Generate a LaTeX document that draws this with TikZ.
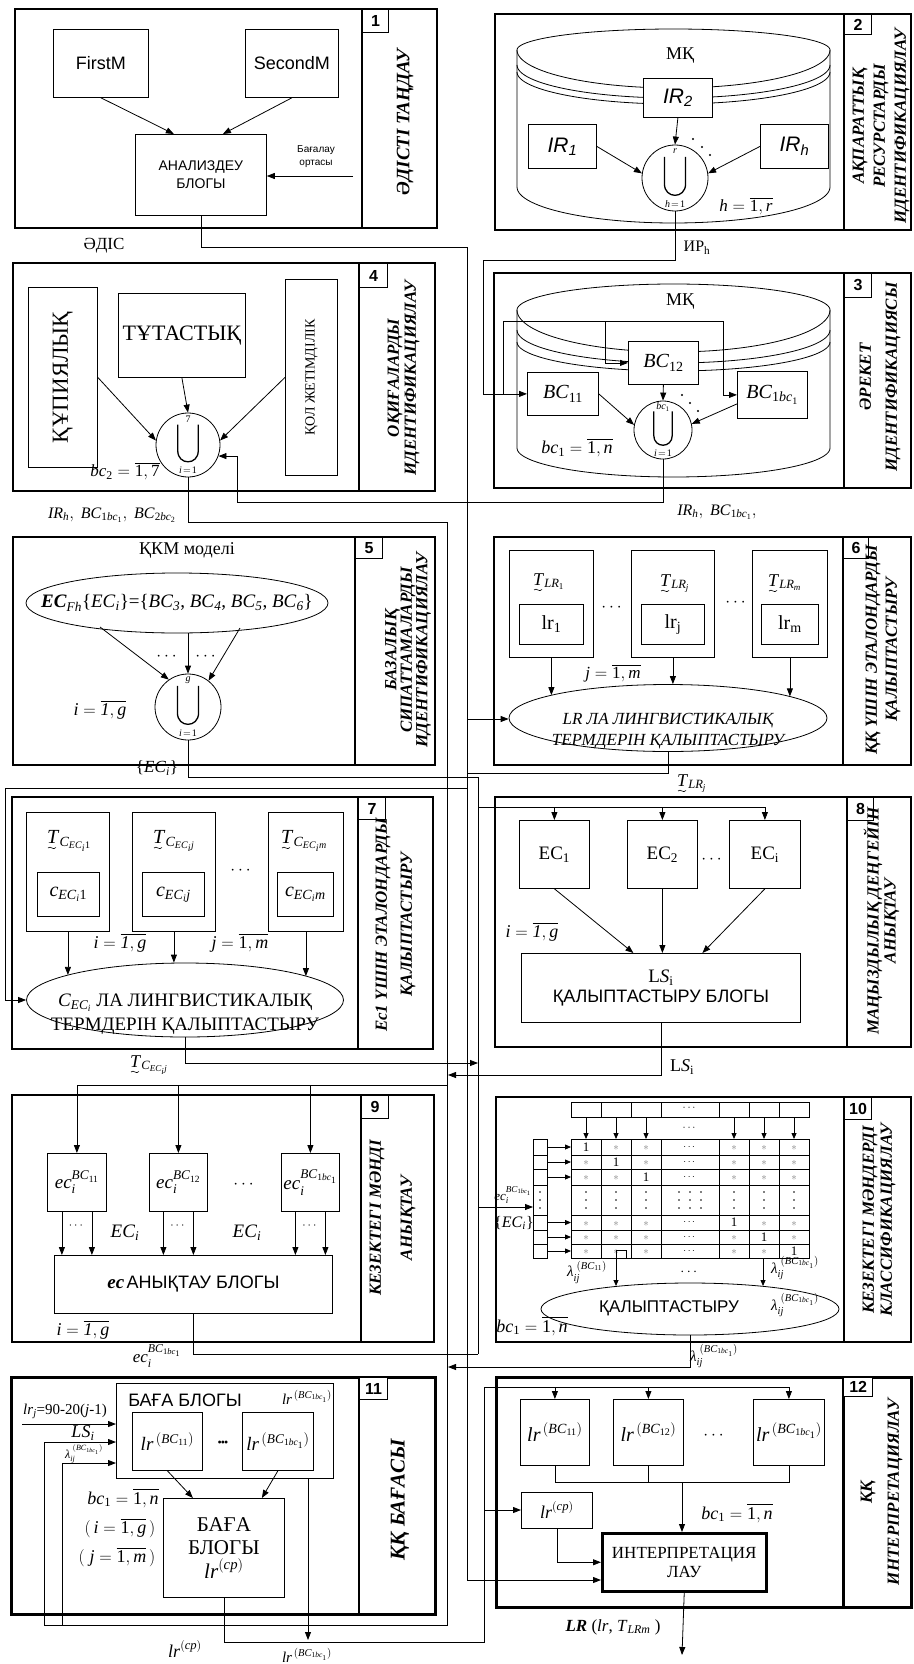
\documentclass[tikz,border=0pt]{standalone}
\usepackage{amsmath}
\usepackage{fontspec}
\setmainfont{Liberation Serif}
\setsansfont{Liberation Sans}
\usetikzlibrary{arrows.meta,calc,shapes.geometric}
\newcommand{\ti}[1]{\text{\textit{#1}}}
\newcommand{\tu}[1]{\text{\upshape #1}}
\newcommand{\fsz}[1]{\fontsize{#1}{#1}\selectfont}
\newcommand{\ovl}[1]{\overline{#1}}
\tikzset{
 ln/.style={line width=0.8pt},
 arr/.style={ln,-{Triangle[length=8pt,width=6pt]}},
 arrs/.style={ln,-{Triangle[length=6pt,width=5pt]}},
 frame/.style={line width=1.1pt},
 bx/.style={draw,ln,fill=white,inner sep=0,align=center},
 ttl/.style={rotate=90,align=center,inner sep=0,font=\fontsize{17}{#1}\selectfont\bfseries\itshape},
 ttl/.default=20,
 num/.style={draw,line width=1pt,font=\sffamily\bfseries\fsz{16}},
 lbl/.style={inner sep=0,align=center},
 ell/.style={draw,ln,ellipse,inner sep=0,fill=white},
}
\newcommand{\rbox}[7][]{\node[bx,anchor=north west,minimum width={(#5-#3)*1pt},minimum height={(#6-#4)*1pt},#1] (#2) at (#3,#4) {#7};}
\newcommand{\ucirc}[6]{%
 \node[draw,ln,circle,fill=white,minimum size={2*#4*1pt},inner sep=0] (#1) at (#2,#3) {};
 \draw[line width=1.3pt] ($(#1)+({-0.32*#4},{-0.64*#4})$) -- ($(#1)+({-0.32*#4},{0.18*#4})$) .. controls ($(#1)+({-0.32*#4},{0.64*#4})$) and ($(#1)+({0.32*#4},{0.64*#4})$) .. ($(#1)+({0.32*#4},{0.18*#4})$) -- ($(#1)+({0.32*#4},{-0.64*#4})$);
 \node[lbl,font=\fsz{10}] (#1sup) at ($(#1)+(0,{-0.8*#4})$) {$#5$};
 \node[lbl,font=\fsz{10}] (#1sub) at ($(#1)+(0,{0.8*#4})$) {$#6$};
}
% T with a tilde below: name, x, y (baseline of T), subscript, font size
\newcommand{\tlab}[5]{%
 \node[lbl,anchor=base west,font=\fsz{#5}] (#1) at (#2,#3) {$\ti{T}_{#4}$};
 \draw[line width=0.6pt] ($(#1.base west)+(1,5)$) .. controls ($(#1.base west)+(3.5,2)$) and ($(#1.base west)+(6,8)$) .. ($(#1.base west)+(9,4.5)$);
}
\begin{document}
\begin{tikzpicture}[x=1pt,y=-1pt]
\useasboundingbox (0,0) rectangle (913,1664);
\fill[white] (0,0) rectangle (913,1664);
%% ---------- BLOCK 1
\draw[frame] (15,9) rectangle (437,228) (362,9) -- (362,228);
\rbox[num]{n1}{362}{9}{388}{32}{1}
\node[ttl,font=\fontsize{19}{22}\selectfont\bfseries\itshape] (t1) at (405,122) {ӘДІСТІ ТАҢДАУ};
\rbox[font=\sffamily\fsz{18}]{fm}{53}{29}{148}{97}{FirstM}
\rbox[font=\sffamily\fsz{18}]{sm}{245}{29}{338}{97}{SecondM}
\rbox[font=\sffamily\fontsize{14}{18}\selectfont]{ab}{135}{134}{266}{215}{АНАЛИЗДЕУ\\БЛОГЫ}
\draw[arr] (fm.south) -- ($(ab.north)+(-27,0)$);
\draw[arr] (sm.south) -- ($(ab.north)+(22,0)$);
\coordinate (b1in) at (353,176);
\draw[arr] (b1in) -- (b1in -| ab.east);
\node[lbl,font=\sffamily\fontsize{10}{13}\selectfont] (bo) at (316,157) {Бағалау\\ортасы};
\node[lbl,font=\fsz{17}] (adis) at (104,246) {ӘДІС};
%% ---------- BLOCK 2
\draw[frame] (495,14) rectangle (911,230) (844,14) -- (844,230);
\rbox[num]{n2}{844}{14}{871}{34}{2}
\node[ttl=21] (t2) at (881,126) {АҚПАРАТТЫҚ\\РЕСУРСТАРДЫ\\ИДЕНТИФИКАЦИЯЛАУ};
\draw[ln,fill=white] plot[domain=180:0,samples=60] ({673.5+156.5*cos(\x)},{50-21*sin(\x)}) -- plot[domain=0:180,samples=60] ({673.5+156.5*cos(\x)},{187+36*sin(\x)}) -- cycle;
\foreach \sa/\ra in {50/38,65/33,72/32} \draw[ln] plot[domain=0:180,samples=60] ({673.5+156.5*cos(\x)},{\sa+\ra*sin(\x)});
\node[lbl,font=\fsz{18}] (mk2) at (680,56) {МҚ};
\rbox[font=\sffamily\itshape\fsz{21}]{ir2}{643}{78}{712}{117}{IR\textsubscript{2}}
\rbox[font=\sffamily\itshape\fsz{21}]{ir1}{528}{124}{596}{168}{IR\textsubscript{1}}
\rbox[font=\sffamily\itshape\fsz{21}]{irh}{760}{124}{828}{168}{IR\textsubscript{h}}
\ucirc{u2}{675}{178}{33}{\ti{r}}{\ti{h}\!=\!\tu{1}}
\draw[arr] (ir2.south) -- (u2.north);
\draw[arr] (ir1.east) -- (u2.172);
\draw[arr] (irh.west) -- (u2.8);
\fill (693,139) circle[radius=1.1pt] (702,147) circle[radius=1.1pt] (710,155) circle[radius=1.1pt];
\node[lbl,font=\fsz{17}] (hr2) at (746,206) {$\ti{h}=\ovl{\tu{1},\ti{r}}$};
\node[lbl,font=\fsz{16}] (irp) at (697,248) {ИР\textsubscript{h}};
\coordinate (c2a) at (483,260);
\draw[ln] (u2.south) |- (c2a);
%% ---------- BLOCK 3
\draw[frame] (494,273) rectangle (911,488) (844,273) -- (844,488);
\rbox[num]{n3}{844}{273}{871}{297}{3}
\node[ttl=26] (t3) at (880,377) {ӘРЕКЕТ\\ИДЕНТИФИКАЦИЯСЫ};
\draw[ln,fill=white] plot[domain=180:0,samples=60] ({673.5+156.5*cos(\x)},{310-26*sin(\x)}) -- plot[domain=0:180,samples=60] ({673.5+156.5*cos(\x)},{448+29*sin(\x)}) -- cycle;
\foreach \sa/\ra in {310/42,330/33,342/29} \draw[ln] plot[domain=0:180,samples=60] ({673.5+156.5*cos(\x)},{\sa+\ra*sin(\x)});
\node[lbl,font=\fsz{18}] (mk3) at (680,302) {МҚ};
\coordinate (c3a) at (503,321);
\coordinate (c3b) at (723,321);
\coordinate (c3c) at (605,321);
\rbox[font=\fsz{20}]{bc12}{628}{341}{698}{384}{$\ti{BC}_{\tu{12}}$}
\rbox[font=\fsz{20}]{bc11}{527}{372}{598}{415}{$\ti{BC}_{\tu{11}}$}
\rbox[font=\fsz{20}]{bc1b}{737}{371}{807}{418}{$\ti{BC}_{\tu{1}\ti{bc}_{\tu{1}}}$}
\draw[arr] (c2a) |- (bc11.west);
\draw[ln] (c3a |- bc11.west) -- (c3a) -- (c3b);
\draw[arr] (c3c) |- (bc12.west);
\draw[arr] (c3b) |- (bc1b.west);
\ucirc{u3}{663}{430}{29}{\ti{bc}_{\tu{1}}}{\ti{i}\!=\!\tu{1}}
\draw[arr] (bc12.south) -- (u3.north);
\draw[arr] (bc11.east) -- (u3.170);
\draw[arr] ($(bc1b.west)+(0,9)$) -- (u3.12);
\fill (682,395) circle[radius=1.1pt] (690,403) circle[radius=1.1pt] (698,411) circle[radius=1.1pt];
\node[lbl,font=\fsz{18}] (bcn3) at (577,448) {$\ti{bc}_{\tu{1}}=\ovl{\tu{1},\ti{n}}$};
%% ---------- BLOCK 4
\draw[frame] (13,263) rectangle (435,491) (359,263) -- (359,491);
\rbox[num]{n4}{359}{263}{387}{287}{4}
\node[ttl=17] (t4) at (403.5,378) {ОҚИҒАЛАРДЫ\\ИДЕНТИФИКАЦИЯЛАУ};
\rbox[font=\fsz{23}]{kup}{28}{287}{97}{467}{\rotatebox{90}{ҚҰПИЯЛЫҚ}}
\rbox[font=\fsz{22}]{tut}{118}{293}{245}{377}{ТҰТАСТЫҚ}
\rbox[font=\fsz{14}]{kol}{285}{279}{337}{475}{\rotatebox{90}{ҚОЛ ЖЕТІМДІЛІК}}
\ucirc{u4}{188}{445}{32}{\tu{7}}{\ti{i}\!=\!\tu{1}}
\draw[arr] (kup.east) -- (u4.172);
\draw[arr] (tut.south) -- (u4.north);
\draw[arr] (kol.west) -- (u4.8);
\node[lbl,font=\fsz{17}] (bc2) at (125,471) {$\ti{bc}_{\tu{2}}=\ovl{\tu{1},\tu{7}}$};
\draw[arr] (u3.south) |- (237,502) |- (u4.-20);
\node[lbl,font=\fsz{16}] (lb4) at (112,515) {$\ti{IR}_{\ti{h}},\ \ti{BC}_{\tu{1}\ti{bc}_{\tu{1}}},\ \ti{BC}_{\tu{2}\ti{bc}_{\tu{2}}}$};
\node[lbl,font=\fsz{16}] (lb3) at (717,512) {$\ti{IR}_{\ti{h}},\ \ti{BC}_{\tu{1}\ti{bc}_{\tu{1}}},$};
%% ---------- BLOCK 5
\draw[frame] (13,537) rectangle (435,765) (355,537) -- (355,765);
\rbox[num]{n5}{355}{537}{382}{558}{5}
\node[ttl=15.5] (t5) at (408,650) {БАЗАЛЫҚ\\СИПАТТАМАЛАРДЫ\\ИДЕНТИФИКАЦИЯЛАУ};
\node[lbl,font=\fsz{18}] (kkm) at (187,550) {ҚКМ моделі};
\node[ell,minimum width=302pt,minimum height=60pt] (e5) at (177,603) {};
\node[lbl,font=\fsz{19}] (e5t) at (e5) {\textbf{\textit{EC}}\textsubscript{\textit{Fh}}\{\textit{EC}\textsubscript{\textit{i}}\}=\{\textit{BC}\textsubscript{\textit{3}}, \textit{BC}\textsubscript{\textit{4}}, \textit{BC}\textsubscript{\textit{5}}, \textit{BC}\textsubscript{\textit{6}}\}};
\ucirc{u5}{188}{707}{33}{\ti{g}}{\ti{i}\!=\!\tu{1}}
\draw[arr] ($(e5.center)+(-77,24)$) -- (u5.125);
\draw[arr] ($(e5.south)+(11,0)$) -- (u5.north);
\draw[arr] ($(e5.center)+(63,25)$) -- (u5.52);
\node[lbl,font=\fsz{16}] (d5a) at (168,657) {$\cdots$};
\node[lbl,font=\fsz{16}] (d5b) at (207,657) {$\cdots$};
\node[lbl,font=\fsz{18}] (i5) at (100,710) {$\ti{i}=\ovl{\ti{1},\ti{g}}$};
\node[lbl,font=\fsz{17}] (ec5) at (157,768) {\{\textit{EC}\textsubscript{\textit{i}}\}};
%% ---------- BLOCK 6
\draw[frame] (494,537) rectangle (911,765) (843,537) -- (843,765);
\rbox[num]{n6}{843}{537}{868}{558}{6}
\node[ttl=20] (t6) at (883,650) {ҚҚ ҮШІН ЭТАЛОНДАРДЫ\\ҚАЛЫПТАСТЫРУ};
\rbox{o61}{509}{550}{593}{657}{}
\rbox{o62}{631}{550}{714}{657}{}
\rbox{o63}{752}{550}{827}{657}{}
\rbox[font=\fsz{20}]{i61}{519}{604}{583}{644}{lr\textsubscript{1}}
\rbox[font=\fsz{20}]{i62}{641}{604}{704}{644}{lr\textsubscript{j}}
\rbox[font=\fsz{20}]{i63}{761}{604}{818}{644}{lr\textsubscript{m}}
\tlab{tl61}{533}{585}{\ti{LR}_{\tu{1}}}{18}
\tlab{tl62}{660}{586}{\ti{LR}_{\ti{j}}}{18}
\tlab{tl63}{768}{586}{\ti{LR}_{\ti{m}}}{18}
\node[lbl,font=\fsz{16}] (d6a) at (613,608) {$\cdots$};
\node[lbl,font=\fsz{16}] (d6b) at (737,603) {$\cdots$};
\node[ell,minimum width=318pt,minimum height=67pt] (LR6) at (668,718) {};
\node[lbl,font=\itshape\fontsize{17}{21}\selectfont] (LR6t) at (668,731) {LR ЛА ЛИНГВИСТИКАЛЫҚ\\ТЕРМДЕРІН ҚАЛЫПТАСТЫРУ};
\draw[arr] (o61.south) -- (o61.south |- LR6.169);
\draw[arr] (o62.south) -- (o62.south |- LR6.north);
\draw[arr] (o63.south) -- (o63.south |- LR6.10);
\node[lbl,font=\fsz{17}] (j6) at (613,673) {$\ti{j}=\ovl{\tu{1},\ti{m}}$};
\tlab{tlr6}{677}{786}{\ti{LR}_{\ti{j}}}{18}
%% ---------- BLOCK 7
\draw[frame] (12,797) rectangle (433,1049) (358,797) -- (358,1049);
\rbox[num]{n7}{358}{797}{385}{819}{7}
\node[ttl=25] (t7) at (395.5,925) {Ес1 ҮШІН ЭТАЛОНДАРДЫ\\ҚАЛЫПТАСТЫРУ};
\rbox{o71}{26}{812}{109}{931}{}
\rbox{o72}{132}{812}{215}{931}{}
\rbox{o73}{268}{812}{343}{931}{}
\rbox[font=\fsz{20}]{i71}{37}{872}{99}{916}{$\ti{c}_{\ti{EC}_{\ti{i}}\tu{1}}$}
\rbox[font=\fsz{20}]{i72}{142}{872}{204}{916}{$\ti{c}_{\ti{EC}_{\ti{i}}\ti{j}}$}
\rbox[font=\fsz{20}]{i73}{277}{872}{333}{916}{$\ti{c}_{\ti{EC}_{\ti{i}}\ti{m}}$}
\tlab{tc71}{47}{843}{\ti{C}_{\ti{EC}_{\ti{i}}\tu{1}}}{20}
\tlab{tc72}{153}{843}{\ti{C}_{\ti{EC}_{\ti{i}}\ti{j}}}{20}
\tlab{tc73}{281}{843}{\ti{C}_{\ti{EC}_{\ti{i}}\ti{m}}}{20}
\node[lbl,font=\fsz{18}] (d7) at (242,871) {$\cdots$};
\node[ell,minimum width=317pt,minimum height=74pt] (C7) at (185,1000) {};
\node[lbl,font=\fontsize{19}{24}\selectfont] (C7t) at (185,1014) {$\ti{C}_{\ti{EC}_{\ti{i}}}$ ЛА ЛИНГВИСТИКАЛЫҚ\\ТЕРМДЕРІН ҚАЛЫПТАСТЫРУ};
\draw[arr] (o71.south) -- (o71.south |- C7.168);
\draw[arr] (o72.south) -- (o72.south |- C7.north);
\draw[arr] (o73.south) -- (o73.south |- C7.11);
\node[lbl,font=\fsz{18}] (i7) at (120,943) {$\ti{i}=\ovl{\ti{1},\ti{g}}$};
\node[lbl,font=\fsz{18}] (j7) at (240,943) {$\ti{j}=\ovl{\tu{1},\ti{m}}$};
\tlab{tc7}{130}{1067}{\ti{C}_{\ti{EC}_{\ti{i}}\ti{j}}}{18}
%% ---------- BLOCK 8
\draw[frame] (495,797) rectangle (911,1047) (847,797) -- (847,1047);
\rbox[num]{n8}{847}{797}{873}{820}{8}
\node[ttl=17] (t8) at (881.5,921) {МАҢЫЗДЫЛЫҚ ДЕҢГЕЙІН\\АНЫҚТАУ};
\rbox[font=\fsz{19}]{ec81}{519}{820}{589}{888}{EC\textsubscript{1}}
\rbox[font=\fsz{19}]{ec82}{627}{820}{697}{888}{EC\textsubscript{2}}
\rbox[font=\fsz{19}]{ec83}{729}{820}{800}{888}{EC\textsubscript{i}}
\node[lbl,font=\fsz{16}] (d8) at (713,860) {$\cdots$};
\rbox{ls8}{521}{953}{800}{1022}{{\fsz{19}L\textit{S}\textsubscript{i}}\\[3pt]{\sffamily\fsz{18}ҚАЛЫПТАСТЫРУ БЛОГЫ}}
\draw[arr] (ec81.south) -- ($(ls8.north)+(-27.5,0)$);
\draw[arr] (ec82.south) -- ($(ls8.north)+(1.5,0)$);
\draw[arr] (ec83.south) -- ($(ls8.north)+(41.5,0)$);
\node[lbl,font=\fsz{18}] (i8) at (532,932) {$\ti{i}=\ovl{\ti{1},\ti{g}}$};
\node[lbl,font=\fsz{18}] (ls8l) at (682,1067) {L\textit{S}\textsubscript{i}};
%% ---------- BLOCK 9
\draw[frame] (12,1095) rectangle (434,1342) (361,1095) -- (361,1342);
\rbox[num]{n9}{361}{1095}{388}{1118}{9}
\node[ttl=31] (t9) at (392.5,1218) {КЕЗЕКТЕГІ МӘНДІ\\АНЫҚТАУ};
\rbox[font=\fsz{19}]{e91}{47}{1153}{106}{1211}{$\ti{ec}_{\ti{i}}^{\ti{BC}_{\tu{11}}}$}
\rbox[font=\fsz{19}]{e92}{149}{1153}{207}{1211}{$\ti{ec}_{\ti{i}}^{\ti{BC}_{\tu{12}}}$}
\rbox[font=\fsz{19}]{e93}{281}{1153}{339}{1211}{$\ti{ec}_{\ti{i}}^{\ti{BC}_{\tu{1}\ti{bc}_{\tu{1}}}}$}
\node[lbl,font=\fsz{18}] (d9) at (245,1185) {$\cdots$};
\rbox{ecb}{54}{1255}{332}{1313}{{\fsz{19}\textbf{\textit{ec}}} {\sffamily\fsz{18}АНЫҚТАУ БЛОГЫ}}
\foreach \b in {e91,e92,e93}{
 \draw[arr] ($(\b.south)+(-15,0)$) -- ($(\b.south |- ecb.north)+(-15,0)$);
 \draw[arr] ($(\b.south)+(15,0)$) -- ($(\b.south |- ecb.north)+(15,0)$);
 \node[lbl,font=\fsz{12}] (\b d) at ($(\b.south)+(0,14)$) {$\cdots$};
}
\node[lbl,font=\fsz{19}] (ec9a) at (125,1233) {$\ti{EC}_{\ti{i}}$};
\node[lbl,font=\fsz{19}] (ec9b) at (247,1233) {$\ti{EC}_{\ti{i}}$};
\node[lbl,font=\fsz{18}] (i9) at (83,1330) {$\ti{i}=\ovl{\ti{1},\ti{g}}$};
\node[lbl,font=\fsz{17}] (ec9o) at (157,1356) {$\ti{ec}_{\ti{i}}^{\ti{BC}_{\tu{1}\ti{bc}_{\tu{1}}}}$};
%% ---------- BLOCK 10
\draw[frame] (496,1097) rectangle (911,1342) (844,1097) -- (844,1342);
\rbox[num]{n10}{844}{1097}{871}{1119}{10}
\node[ttl=18] (t10) at (879,1220) {КЕЗЕКТЕГІ МӘНДЕРДІ\\КЛАССИФИКАЦИЯЛАУ};
\draw[ln] (571,1102) rectangle (809,1117);
\foreach \xx in {601,631,661,719,749,779} \draw[ln] (\xx,1102) -- (\xx,1117);
\node[lbl,font=\fsz{11}] (hd10) at (690,1108) {$\cdots$};
\foreach \xx in {586,616,646,734,764,794} \draw[arrs] (\xx,1117) -- (\xx,1139);
\node[lbl,font=\fsz{11}] (hd10b) at (690,1128) {$\cdots$};
\draw[ln] (571,1139) rectangle (809,1258);
\foreach \xx in {601,631,661,719,749,779} \draw[ln] (\xx,1139) -- (\xx,1258);
\rbox{lc10}{533}{1139}{547}{1258}{}
\foreach \yy in {1155,1169,1185,1215,1230,1244} \draw[ln] (533,\yy) -- (547,\yy) (571,\yy) -- (809,\yy);
\foreach \yy [count=\ri] in {1147,1162,1177,1222.5,1237,1251}{
  \foreach \xx [count=\ci] in {586,616,646,734,764,794}{
    \ifnum\ri=\ci
      \node[lbl,font=\fsz{13}] (m\ri-\ci) at (\xx,\yy) {1};
    \else
      \node[lbl,font=\fsz{11},text=gray] (m\ri-\ci) at (\xx,{\yy+1}) {$\ast$};
    \fi
  }
  \node[lbl,font=\fsz{10}] (md\ri) at (690,\yy) {$\cdots$};
  \draw[arrs] (547,\yy) -- (571,\yy);
}
\foreach \xx in {540,586,616,646,679,690,701,734,764,794} \foreach \yy in {1192,1200,1208} \fill (\xx,\yy) circle[radius=0.8pt];
\draw[ln] (616,1250) rectangle (626,1258);
\coordinate (la1) at (616,1258); \coordinate (la1e) at (616,1286);
\coordinate (la2) at (763,1258); \coordinate (la2e) at (763,1286);
\draw[arrs] (la1) -- (la1e);
\draw[arrs] (la2) -- (la2e);
\node[lbl,font=\fsz{15}] (lam1) at (587,1272) {$\ti{λ}_{\ti{ij}}^{\;(\ti{BC}_{\tu{11}})}$};
\node[lbl,font=\fsz{15}] (lam2) at (795,1268) {$\ti{λ}_{\ti{ij}}^{\;(\ti{BC}_{\tu{1}\ti{bc}_{\tu{1}}})}$};
\node[lbl,font=\fsz{14}] (d10) at (690,1272) {$\cdots$};
\node[ell,minimum width=298pt,minimum height=52pt] (q10) at (690,1309) {};
\node[lbl,font=\sffamily\fsz{17}] (q10t) at (669,1308) {ҚАЛЫПТАСТЫРУ};
\node[lbl,font=\fsz{15}] (q10l) at (795,1305) {$\ti{λ}_{\ti{ij}}^{\;(\ti{BC}_{\tu{1}\ti{bc}_{\tu{1}}})}$};
\node[lbl,font=\fsz{18}] (bcn10) at (532,1326) {$\ti{bc}_{\tu{1}}=\ovl{\tu{1},\ti{n}}$};
\node[lbl,font=\fsz{13}] (in10a) at (513,1195) {$\ti{ec}_{\ti{i}}^{\ti{BC}_{\tu{1}\ti{bc}_{\tu{1}}}}$};
\node[lbl,font=\fsz{16}] (in10b) at (514,1223) {\{\textit{EC}\textsubscript{\textit{i}}\}};
\node[lbl,font=\fsz{15}] (lam10o) at (714,1356) {$\ti{λ}_{\ti{ij}}^{\;(\ti{BC}_{\tu{1}\ti{bc}_{\tu{1}}})}$};
%% ---------- BLOCK 11
\draw[line width=3pt] (11,1377) rectangle (435,1614);
\draw[frame] (359,1377) -- (359,1614);
\rbox[num,line width=1.3pt]{n11}{359}{1377}{387}{1399}{11}
\node[ttl,font=\fontsize{21}{24}\selectfont\bfseries\itshape] (t11) at (400,1500) {ҚҚ БАҒАСЫ};
\rbox{bb}{116}{1383}{333}{1478}{}
\node[lbl,font=\sffamily\fsz{18}] (bbt) at (185,1400) {БАҒА БЛОГЫ};
\node[lbl,font=\fsz{15}] (bbl) at (307,1397) {$\ti{lr}^{\,(\ti{BC}_{\tu{1}\ti{bc}_{\tu{1}}})}$};
\rbox[font=\fsz{19}]{lr11}{132}{1412}{202}{1470}{$\ti{lr}^{\,(\ti{BC}_{\tu{11}})}$}
\rbox[font=\fsz{19}]{lr1b}{242}{1412}{313}{1470}{$\ti{lr}^{\,(\ti{BC}_{\tu{1}\ti{bc}_{\tu{1}}})}$}
\node[lbl,font=\fsz{12}] (d11) at (223,1444) {\textbullet\hspace{-1pt}\textbullet\hspace{-1pt}\textbullet};
\rbox[font=\fontsize{21}{23.5}\selectfont]{bg2}{163}{1498}{284}{1597}{БАҒА\\БЛОГЫ\\$\ti{lr}^{(\ti{cp})}$}
\draw[arr] (lr11.south) -- ($(bg2.north)+(-31,0)$);
\draw[arr] (lr1b.south) -- ($(bg2.north)+(38,0)$);
\node[lbl,font=\fsz{18}] (bc11l) at (123,1498) {$\ti{bc}_{\tu{1}}=\ovl{\tu{1},\ti{n}}$};
\node[lbl,font=\fsz{18}] (i11) at (120,1528) {$(\,\ti{i}=\ovl{\tu{1},\ti{g}}\,)$};
\node[lbl,font=\fsz{18}] (j11) at (117,1557) {$(\;\ti{j}=\ovl{\tu{1},\ti{m}}\,)$};
\node[lbl,font=\fsz{15}] (lrj) at (65,1411) {\textit{lr}\textsubscript{\textit{j}}=90-20(\textit{j}-1)};
\node[lbl,font=\fsz{18}] (ls11l) at (83,1433) {\textit{LS}\textsubscript{\textit{i}}};
\node[lbl,font=\fsz{12}] (lam11l) at (84,1454) {$\ti{λ}_{\ti{ij}}^{\;(\ti{BC}_{\tu{1}\ti{bc}_{\tu{1}}})}$};
\coordinate (lrj0) at (22,1424);
\coordinate (lrj1) at ($(bb.north west)+(0,41)$);
\coordinate (ls11) at ($(bb.north west)+(0,59)$);
\coordinate (lam11) at ($(bb.north west)+(0,80)$);
\draw[arr] (lrj0) -- (lrj1);
\node[lbl,font=\fsz{18}] (cpl) at (185,1649) {$\ti{lr}^{(\ti{cp})}$};
\node[lbl,font=\fsz{15}] (bcl) at (307,1655) {$\ti{lr}^{\,(\ti{BC}_{\tu{1}\ti{bc}_{\tu{1}}})}$};
%% ---------- BLOCK 12
\draw[line width=3pt] (496,1377) rectangle (911,1607) (843,1377) -- (843,1607);
\rbox[num,line width=1.3pt]{n12}{843}{1377}{872}{1396}{12}
\node[ttl=27] (t12) at (881.5,1492) {ҚҚ\\ИНТЕРПРЕТАЦИЯЛАУ};
\rbox[font=\fsz{20}]{l121}{520}{1399}{589}{1465}{$\ti{lr}^{\,(\ti{BC}_{\tu{11}})}$}
\rbox[font=\fsz{20}]{l122}{613}{1399}{683}{1465}{$\ti{lr}^{\,(\ti{BC}_{\tu{12}})}$}
\rbox[font=\fsz{20}]{l123}{753}{1399}{824}{1465}{$\ti{lr}^{\,(\ti{BC}_{\tu{1}\ti{bc}_{\tu{1}}})}$}
\node[lbl,font=\fsz{18}] (d12) at (715,1436) {$\cdots$};
\rbox[font=\fsz{18}]{lrcp}{521}{1492}{592}{1528}{$\ti{lr}^{(\ti{cp})}$}
\rbox[line width=2.5pt,font=\fontsize{17}{19}\selectfont]{ip}{601}{1532}{765}{1590}{ИНТЕРПРЕТАЦИЯ\\ЛАУ}
\coordinate (mg) at (682,1482);
\draw[ln] (l121.south) |- (mg);
\draw[ln] (l123.south) |- (mg);
\draw[ln] (l122.south) -- (l122.south |- mg);
\draw[arr] (mg) -- (mg |- ip.north);
\draw[arr] (lrcp.south) |- (ip.west);
\node[lbl,font=\fsz{18}] (bc12l) at (737,1513) {$\ti{bc}_{\tu{1}}=\ovl{\tu{1},\ti{n}}$};
\coordinate (out12) at (682,1655);
\draw[arr] (ip.south) -- (out12);
\node[lbl,font=\fsz{17}] (lrout) at (613,1627) {\textbf{\textit{LR}} (\textit{lr}, \textit{T}\textsubscript{\textit{LRm}} )};
%% ---------- BUS LINES
\coordinate (m1) at (467,247);
\coordinate (m2) at (467,1580);
\coordinate (m6) at (467,719);
\coordinate (m6b) at (467,773);
\coordinate (m7) at (467,788);
\coordinate (m7b) at (5,788);
\draw[ln] (ab.south) |- (m1) -- (m2);
\draw[arr] (m2) -- (m2 -| ip.west);
\draw[arr] (m6) -- (m6 -| LR6.west);
\draw[arr] (m7) -- (m7b) |- (C7.west);
\draw[ln] (LR6.south) |- (m6b);
\coordinate (e1) at (478,777);
\coordinate (e2) at (478,1354);
\coordinate (e3) at (478,1063);
\coordinate (f8) at (478,807);
\coordinate (in10) at (478,1207);
\draw[ln] (u5.south) |- (e1) -- (e2);
\draw[ln] (ecb.south) |- (e2);
\draw[ln] (f8) -- (f8 -| ec83.north);
\foreach \b in {ec81,ec82,ec83} \draw[arr] (f8 -| \b.north) -- (\b.north);
\draw[arr] (in10) -- (in10 -| lc10.west);
\draw[arr] (C7.south) |- (e3);
\coordinate (b1) at (447,522);
\coordinate (b2) at (447,1625);
\coordinate (b3) at (44,1625);
\coordinate (b4) at (62,1625);
\coordinate (b5) at (448,1075);
\coordinate (b6) at (448,1367);
\coordinate (f9) at (447,1085);
\draw[ln] (u4.south) |- (b1) -- (b2) -- (b3);
\draw[arr] (b3) |- (ls11);
\draw[arr] (b4) |- (lam11);
\draw[ln] (f9) -- (f9 -| e91.north);
\foreach \b in {e91,e92,e93} \draw[arr] (f9 -| \b.north) -- (\b.north);
\draw[arr] (ls8.south) |- (b5);
\draw[arr] (q10.south) |- (b6);
\coordinate (f12) at (484,1387);
\coordinate (f12a) at (484,1642);
\coordinate (f12b) at (484,1510);
\coordinate (q11) at (308,1478);
\coordinate (q11e) at (308,1640);
\draw[ln] (bg2.south) |- (f12a) -- (f12) -- (f12 -| l123.north);
\foreach \b in {l121,l122,l123} \draw[arr] (f12 -| \b.north) -- (\b.north);
\draw[arr] (f12b) -- (f12b -| lrcp.west);
\draw[arr] (q11) -- (q11e);
\end{tikzpicture}
\end{document}
